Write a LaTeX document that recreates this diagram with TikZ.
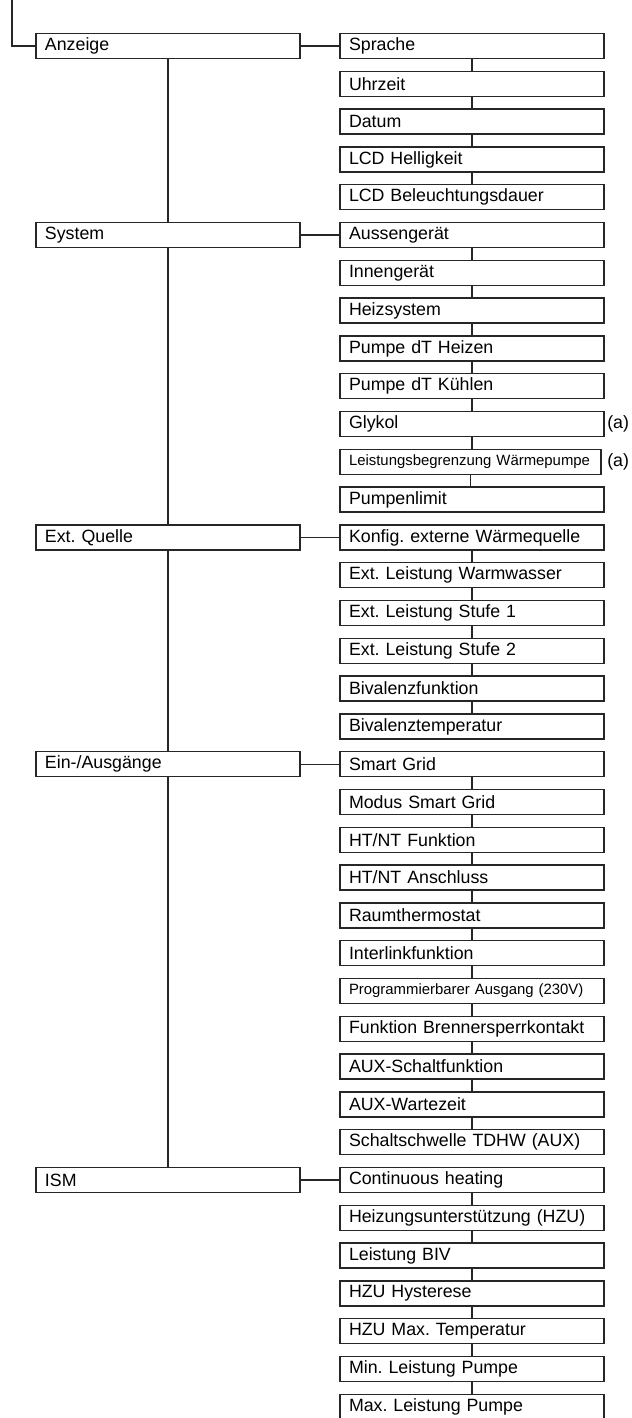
\documentclass[tikz,border=0pt]{standalone}
\usepackage{fontspec}
\setmainfont{Liberation Sans}
\usetikzlibrary{positioning}
\frenchspacing
\begin{document}
\begin{tikzpicture}[x=0.25mm, y=-0.25mm,
    node distance=3.2mm and 10mm,
    menu/.style={draw=black!85, line width=0.35mm, outer sep=0pt,
      inner xsep=2.25mm, inner ysep=0pt, minimum height=6.25mm,
      text width=61.5mm, align=left, font=\fontsize{12.65}{14}\selectfont},
    klein/.style={menu, font=\fontsize{10.6}{12}\selectfont},
    linie/.style={line width=0.35mm, draw=black!85}]

  \useasboundingbox (0,0) rectangle (631,1418);

  % Untermenues
  \node [menu, anchor=west] (r1) at (340,46) {Sprache};
  \node [menu, below=of r1] (r2) {Uhrzeit};
  \node [menu, below=of r2] (r3) {Datum};
  \node [menu, below=of r3] (r4) {LCD Helligkeit};
  \node [menu, below=of r4] (r5) {LCD Beleuchtungsdauer};
  \node [menu, below=of r5] (r6) {Aussengerät};
  \node [menu, below=of r6] (r7) {Innengerät};
  \node [menu, below=of r7] (r8) {Heizsystem};
  \node [menu, below=of r8] (r9) {Pumpe dT Heizen};
  \node [menu, below=of r9] (r10) {Pumpe dT Kühlen};
  \node [menu, below=of r10] (r11) {Glykol};
  \node [klein, text width=60.75mm, below=3.2mm of r11.south west,
    anchor=north west] (r12) {Leistungsbegrenzung Wärmepumpe};
  \node [menu, below=3.2mm of r12.south west, anchor=north west] (r13) {Pumpenlimit};
  \node [menu, below=of r13] (r14) {Konfig. externe Wärmequelle};
  \node [menu, below=of r14] (r15) {Ext. Leistung Warmwasser};
  \node [menu, below=of r15] (r16) {Ext. Leistung Stufe 1};
  \node [menu, below=of r16] (r17) {Ext. Leistung Stufe 2};
  \node [menu, below=of r17] (r18) {Bivalenzfunktion};
  \node [menu, below=of r18] (r19) {Bivalenztemperatur};
  \node [menu, below=of r19] (r20) {Smart Grid};
  \node [menu, below=of r20] (r21) {Modus Smart Grid};
  \node [menu, below=of r21] (r22) {HT/NT Funktion};
  \node [menu, below=of r22] (r23) {HT/NT Anschluss};
  \node [menu, below=of r23] (r24) {Raumthermostat};
  \node [menu, below=of r24] (r25) {Interlinkfunktion};
  \node [klein, below=of r25] (r26) {Programmierbarer Ausgang (230V)};
  \node [menu, below=of r26] (r27) {Funktion Brennersperrkontakt};
  \node [menu, below=of r27] (r28) {AUX-Schaltfunktion};
  \node [menu, below=of r28] (r29) {AUX-Wartezeit};
  \node [menu, below=of r29] (r30) {Schaltschwelle TDHW (AUX)};
  \node [menu, below=of r30] (r31) {Continuous heating};
  \node [menu, below=of r31] (r32) {Heizungsunterstützung (HZU)};
  \node [menu, below=of r32] (r33) {Leistung BIV};
  \node [menu, below=of r33] (r34) {HZU Hysterese};
  \node [menu, below=of r34] (r35) {HZU Max. Temperatur};
  \node [menu, below=of r35] (r36) {Min. Leistung Pumpe};
  \node [menu, below=of r36] (r37) {Max. Leistung Pumpe};

  % Fussnoten
  \node [anchor=west, inner sep=0pt, font=\fontsize{12.65}{14}\selectfont]
    (a1) at ([xshift=0.75mm]r11.east) {(a)};
  \node [anchor=west, inner sep=0pt, font=\fontsize{12.65}{14}\selectfont]
    (a2) at ([xshift=1.5mm]r12.east) {(a)};

  % Hauptmenues
  \node [menu, left=of r1] (anzeige) {Anzeige};
  \node [menu, left=of r6] (system) {System};
  \node [menu, left=of r14] (quelle) {Ext. Quelle};
  \node [menu, left=of r20] (einaus) {Ein-/Ausgänge};
  \node [menu, left=of r31] (ism) {ISM};

  % Verbindungen
  \coordinate (start) at (12,0);
  \draw [linie] (start) |- (anzeige.west);
  \draw [linie] (anzeige.south) -- (system.north);
  \draw [linie] (system.south) -- (quelle.north);
  \draw [linie] (quelle.south) -- (einaus.north);
  \draw [linie] (einaus.south) -- (ism.north);
  \draw [linie] (anzeige) -- (r1);
  \draw [linie] (system) -- (r6);
  \draw [linie] (quelle) -- (r14);
  \draw [linie] (einaus) -- (r20);
  \draw [linie] (ism) -- (r31);
  \foreach \i in {1,2,3,4,6,7,8,9,10,11,12,14,15,16,17,18,
                  20,21,22,23,24,25,26,27,28,29,31,32,33,34,35,36} {
    \pgfmathtruncatemacro\j{\i+1}
    \draw [linie] (r\i.south) -- (r\i.south |- r\j.north);
  }
\end{tikzpicture}
\end{document}
